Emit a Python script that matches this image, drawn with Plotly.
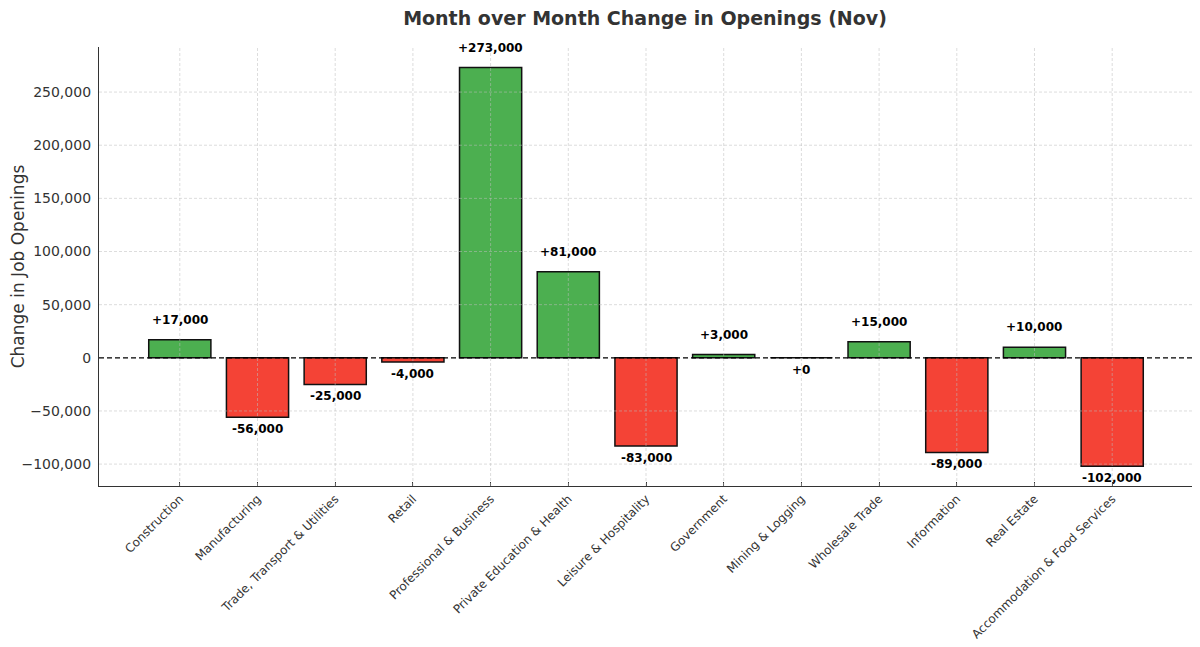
import plotly.graph_objects as go

categories = ["Construction", "Manufacturing", "Trade, Transport & Utilities", "Retail",
              "Professional & Business", "Private Education & Health", "Leisure & Hospitality",
              "Government", "Mining & Logging", "Wholesale Trade", "Information", "Real Estate",
              "Accommodation & Food Services"]
changes = [17000, -56000, -25000, -4000, 273000, 81000, -83000, 3000, 0, 15000, -89000, 10000, -102000]
yticks = [-100000, -50000, 0, 50000, 100000, 150000, 200000, 250000]

colors = ["#4caf50" if v > 0 else "#f44336" for v in changes]
xs = list(range(len(categories)))

# page body has an 8px margin, so the figure is a bit smaller than the window
W, H = 1192, 639

fig = go.Figure()
fig.add_trace(go.Bar(
    x=xs, y=changes, width=0.8,
    marker=dict(color=colors, line=dict(color="#111111", width=1.5)),
    showlegend=False, hoverinfo="skip"
))

# grid drawn on top of the bars (like matplotlib)
grid = dict(color="rgba(190,190,190,0.65)", width=0.8, dash="3px,2px")
for i in xs:
    fig.add_shape(type="line", xref="x", x0=i, x1=i, yref="paper", y0=0, y1=1,
                  line=grid, layer="above")
for t in yticks:
    if t != 0:
        fig.add_shape(type="line", xref="paper", x0=0, x1=1, yref="y", y0=t, y1=t,
                      line=grid, layer="above")

# value labels above/below bars
for i, v in enumerate(changes):
    fig.add_annotation(
        x=i, y=v, text="<b>{:+,}</b>".format(v), showarrow=False,
        yshift=20 if v > 0 else -12,
        font=dict(family="DejaVu Sans", size=12, color="black")
    )

# zero line
fig.add_shape(type="line", xref="paper", x0=0, x1=1, yref="y", y0=0, y1=0,
              line=dict(color="black", width=1.3, dash="5px,3px"), layer="above")

fig.update_layout(
    width=W, height=H,
    paper_bgcolor="white", plot_bgcolor="white",
    margin=dict(l=91, r=7, t=39, b=161),
    font=dict(family="DejaVu Sans", color="#333333"),
    title=dict(text="<b>Month over Month Change in Openings (Nov)</b>", x=637/W, xanchor="center",
               y=1-10.4/H, yanchor="middle", font=dict(size=19, color="#333333")),
    xaxis=dict(
        range=[-1.04, 13.04], tickmode="array", tickvals=xs, ticktext=categories,
        tickangle=-45, tickfont=dict(size=12, color="#333333"), automargin=False,
        showgrid=False,
        showline=True, linecolor="#333333", linewidth=1.3,
        ticks="inside", ticklen=4, tickcolor="#333333", zeroline=False
    ),
    yaxis=dict(
        range=[-120600, 292400], tickvals=yticks,
        tickformat=",d", tickfont=dict(size=14, color="#333333"), automargin=False,
        title=dict(text="Change in Job Openings", font=dict(size=17, color="#333333"), standoff=7),
        showgrid=False,
        showline=True, linecolor="#333333", linewidth=1.3,
        ticks="outside", ticklen=4, tickcolor="rgba(0,0,0,0)", zeroline=False
    ),
)

fig.write_html("out.html")
